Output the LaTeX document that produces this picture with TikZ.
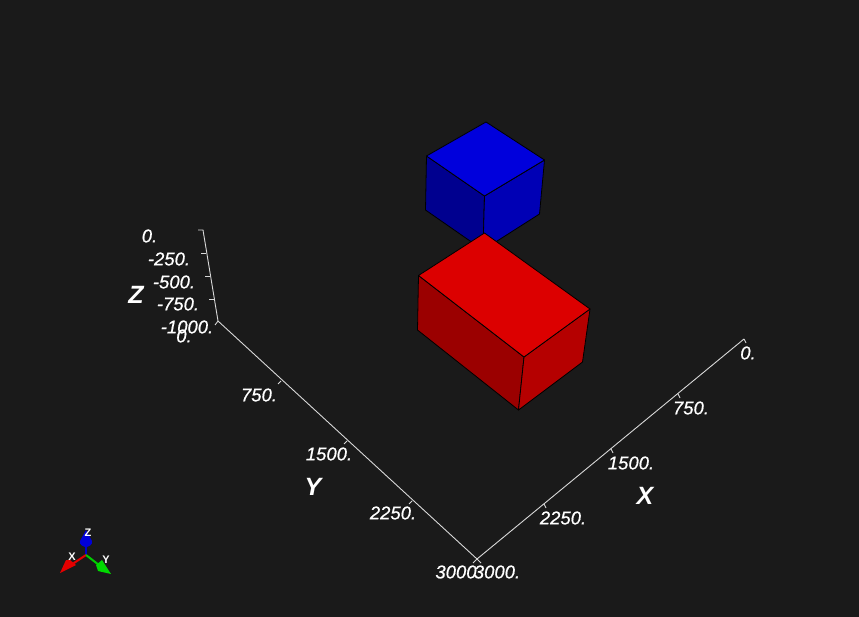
\documentclass[tikz,border=0pt]{standalone}
\usepackage{fontspec}
\setmainfont{Liberation Sans}
\newfontfamily\ticksfont[FakeBold=0.6]{Liberation Sans}
\usetikzlibrary{positioning,calc}
\definecolor{bgdark}{HTML}{1A1A1A}
\definecolor{axisgray}{HTML}{D8D8D8}
\definecolor{bluetop}{HTML}{0000DC}
\definecolor{blueleft}{HTML}{00008F}
\definecolor{blueright}{HTML}{0000B5}
\definecolor{redtop}{HTML}{DC0000}
\definecolor{redleft}{HTML}{9B0000}
\definecolor{redright}{HTML}{B50000}
\tikzset{
    face/.style={
        draw=black,
        line width=0.8pt,
        line join=round,
    },
    axisline/.style={
        draw=axisgray,
        line width=0.9pt,
    },
    ticklabel/.style={
        text=white,
        inner sep=0pt,
        font=\fontsize{18.5}{18.5}\ticksfont\itshape,
    },
    axistitle/.style={
        text=white,
        inner sep=0pt,
        font=\fontsize{25}{25}\selectfont\bfseries\itshape,
    },
    triadlabel/.style={
        text=white,
        inner sep=0pt,
        font=\fontsize{11}{11}\selectfont\bfseries,
    },
  }

\begin{document}
\begin{tikzpicture}[x=1pt,y=-1pt]
  \fill[bgdark,use as bounding box] (0,0) rectangle (859,617);

  % blue box
  \coordinate (bt) at (486,122);
  \coordinate (bl) at (426.5,156);
  \coordinate (bc) at (484.5,196);
  \coordinate (br) at (544.5,160);
  \coordinate (blb) at (425.5,210);
  \coordinate (bcb) at (483,250);
  \coordinate (brb) at (539.5,214);
  \draw[face,fill=blueleft] (bl) -- (bc) -- (bcb) -- (blb) -- cycle;
  \draw[face,fill=blueright] (bc) -- (br) -- (brb) -- (bcb) -- cycle;
  \draw[face,fill=bluetop] (bt) -- (br) -- (bc) -- (bl) -- cycle;

  % red box
  \coordinate (rt) at (484.5,233);
  \coordinate (rl) at (418.5,275.5);
  \coordinate (rc) at (524,357);
  \coordinate (rr) at (590,309);
  \coordinate (rlb) at (417.5,330);
  \coordinate (rcb) at (518.5,410);
  \coordinate (rrb) at (582.5,362);
  \draw[face,fill=redleft] (rl) -- (rc) -- (rcb) -- (rlb) -- cycle;
  \draw[face,fill=redright] (rc) -- (rr) -- (rrb) -- (rcb) -- cycle;
  \draw[face,fill=redtop] (rt) -- (rr) -- (rc) -- (rl) -- cycle;

  % axes
  \coordinate (ztop) at (203,230);
  \coordinate (origin) at (218,321);
  \coordinate (corner) at (477,559);
  \coordinate (xend) at (744,339);
  \draw[axisline] (198,230) -- (ztop) -- (origin) -- (corner) -- (xend);
  \draw[axisline] (744,339) -- (746,343);
  \draw[axisline] (218,321) -- (215,325);
  \draw[axisline] (477,559) -- (473,563) (477,559) -- (481,563);

  % ticks
  \foreach \tx/\ty in {206/253,210/276,214/299}
    \draw[axisline] (\tx,\ty) -- ++(-5,0);
  \foreach \tx/\ty in {281/381,347/441,412/501}
    \draw[axisline] (\tx,\ty) -- ++(-3,3);
  \foreach \tx/\ty in {678/394,611/449,544/504}
    \draw[axisline] (\tx,\ty) -- ++(2,4);

  % labels
  \node[ticklabel] (z0) at (149.5,236) {0.};
  \node[ticklabel] (z250) at (169,259) {-250.};
  \node[ticklabel] (z500) at (174,282) {-500.};
  \node[ticklabel] (z750) at (178,304) {-750.};
  \node[ticklabel] (z1000) at (187,327) {-1000.};
  \node[ticklabel] (y0) at (184,336) {0.};
  \node[ticklabel] (y750) at (259,395) {750.};
  \node[ticklabel] (y1500) at (329,454) {1500.};
  \node[ticklabel] (y2250) at (393,513) {2250.};
  \node[ticklabel] (y3000) at (456,572) {3000};
  \node[ticklabel] (x3000) at (497,572) {3000.};
  \node[ticklabel] (x2250) at (563,518) {2250.};
  \node[ticklabel] (x1500) at (631,463) {1500.};
  \node[ticklabel] (x750) at (691,408) {750.};
  \node[ticklabel] (x0) at (748,353) {0.};
  \node[axistitle] (zname) at (136,295) {Z};
  \node[axistitle] (yname) at (313,487) {Y};
  \node[axistitle] (xname) at (645,496) {X};

  % orientation triad
  \coordinate (tri) at (86,555);
  \coordinate (triz) at (86,530);
  \coordinate (trix) at (60,573);
  \coordinate (triy) at (111,574);
  \draw[blue!80!black,line width=2pt] (tri) -- (86,542);
  \draw[red!90!black,line width=2pt] (tri) -- (71,565);
  \draw[green!80!black,line width=2pt] (tri) -- (99,565);
  \fill[blue!85!black] (triz) -- (92,541) .. controls (93,545) and (88,547) .. (86,547) .. controls (84,547) and (79,545) .. (80,541) -- cycle;
  \fill[red!90!black] (trix) -- (66,560) -- (70,560) -- (76,565) -- cycle;
  \fill[green!85!black] (triy) -- (98,571) -- (96,565) -- (102,560) -- cycle;
  \node[triadlabel] (tz) at (88,533) {Z};
  \node[triadlabel] (tx) at (72,557) {X};
  \node[triadlabel] (ty) at (106,560) {Y};
\end{tikzpicture}
\end{document}
